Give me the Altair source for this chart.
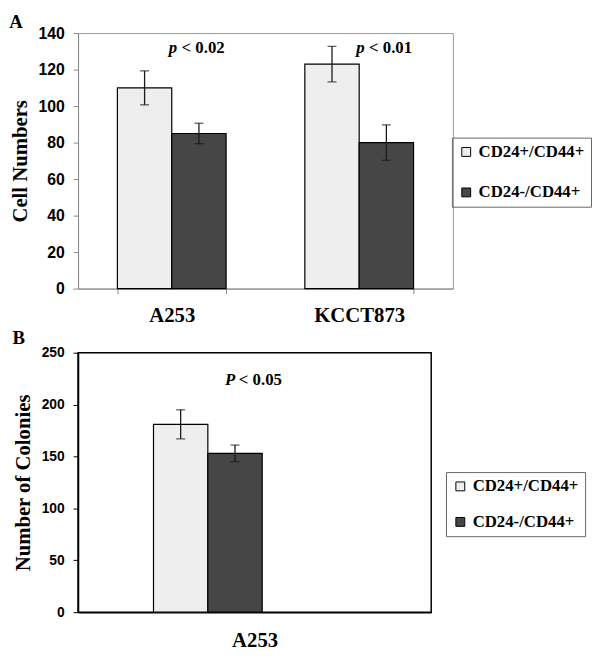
import altair as alt
import pandas as pd

# ---------------- data ----------------
series = ["CD24+/CD44+", "CD24-/CD44+"]
fills = ["#eeeeee", "#464646"]

# Panel A: cell numbers
lines_A = ["A253", "KCCT873"]
cells_plus = [110, 123]
cells_plus_err = [9.3, 9.7]
cells_minus = [85, 80]
cells_minus_err = [5.6, 9.7]
p_prefix_A = ["p", "p"]
p_text_A = ["< 0.02", "< 0.01"]
p_y_A = [132, 132]

# Panel B: colonies
lines_B = ["A253"]
col_plus = [181]
col_plus_err = [14]
col_minus = [153]
col_minus_err = [8]
p_prefix_B = ["P"]
p_text_B = ["< 0.05"]
p_y_B = [224]


def make_df(groups, plus, plus_err, minus, minus_err):
    rows = []
    for g, v, e in zip(groups, plus, plus_err):
        rows.append({"group": g, "series": series[0], "value": v, "lo": v - e, "hi": v + e})
    for g, v, e in zip(groups, minus, minus_err):
        rows.append({"group": g, "series": series[1], "value": v, "lo": v - e, "hi": v + e})
    return pd.DataFrame(rows)


dfA = make_df(lines_A, cells_plus, cells_plus_err, cells_minus, cells_minus_err)
dfB = make_df(lines_B, col_plus, col_plus_err, col_minus, col_minus_err)
annA = pd.DataFrame({"group": lines_A, "pre": p_prefix_A, "txt": p_text_A, "y": p_y_A})
annB = pd.DataFrame({"group": lines_B, "pre": p_prefix_B, "txt": p_text_B, "y": p_y_B})

SERIF = "Liberation Serif"
SANS = "Liberation Sans"


def panel(df, ann, groups, ymax, ystep, ytitle, pad_inner, pad_outer, axis_color,
          tick_font, x_ticks, x_label_pad, legend_x, legend_y, row_pad, pre_dx, txt_dx,
          width, height, frame_color, frame_width, letter, title_offset):
    x = alt.X("group:N", sort=groups, title=None,
              scale=alt.Scale(domain=groups, paddingInner=pad_inner, paddingOuter=pad_outer),
              axis=alt.Axis(labelAngle=0, domainColor=axis_color, domainWidth=frame_width,
                            ticks=x_ticks, tickColor=axis_color, tickSize=5, tickBand="extent",
                            labelFont=SERIF, labelFontSize=21, labelFontWeight="bold",
                            labelColor="black", labelPadding=x_label_pad))
    xo = alt.XOffset("series:N", sort=series,
                     scale=alt.Scale(domain=series, paddingInner=0, paddingOuter=0))
    yscale = alt.Scale(domain=[0, ymax], nice=False)
    yaxis = alt.Axis(values=list(range(0, ymax + 1, ystep)), grid=False,
                     labelOverlap=False,
                     domainColor=axis_color, domainWidth=frame_width,
                     tickColor=axis_color, tickSize=5,
                     labelFont=SANS, labelFontSize=tick_font, labelFontWeight="bold",
                     labelColor="black", labelPadding=9,
                     titleFont=SERIF, titleFontSize=21, titleFontWeight="bold",
                     titleColor="black", titlePadding=8)

    def Y(field):
        return alt.Y(field, title=ytitle, scale=yscale, axis=yaxis)

    color = alt.Color("series:N", sort=series,
                      scale=alt.Scale(domain=series, range=fills),
                      legend=alt.Legend(title=None, orient="none", legendX=legend_x,
                                        legendY=legend_y, direction="vertical",
                                        symbolType="square", symbolSize=81,
                                        symbolStrokeColor="black", symbolStrokeWidth=1,
                                        labelFont=SERIF, labelFontSize=17,
                                        labelFontWeight="bold", labelColor="black",
                                        labelOffset=4, rowPadding=row_pad, padding=6,
                                        strokeColor="#666", labelLimit=300))

    bars = alt.Chart(df).mark_bar(stroke="black", strokeWidth=1.2).encode(
        x=x, xOffset=xo, y=Y("value:Q"), color=color)
    rule = alt.Chart(df).mark_rule(color="#1a1a1a", strokeWidth=1.3).encode(
        x=x, xOffset=xo, y=Y("lo:Q"), y2="hi:Q")
    cap_hi = alt.Chart(df).mark_tick(color="#1a1a1a", thickness=1.3, size=9).encode(
        x=x, xOffset=xo, y=Y("hi:Q"))
    cap_lo = alt.Chart(df).mark_tick(color="#1a1a1a", thickness=1.3, size=9).encode(
        x=x, xOffset=xo, y=Y("lo:Q"))
    pre = alt.Chart(ann).mark_text(font=SERIF, fontSize=17, fontWeight="bold",
                                   fontStyle="italic", align="left", baseline="middle",
                                   dx=pre_dx, color="black").encode(
        x=x, y=Y("y:Q"), text="pre:N")
    txt = alt.Chart(ann).mark_text(font=SERIF, fontSize=17, fontWeight="bold",
                                   align="left", baseline="middle",
                                   dx=txt_dx, color="black").encode(
        x=x, y=Y("y:Q"), text="txt:N")

    return alt.layer(bars, rule, cap_hi, cap_lo, pre, txt).properties(
        width=width, height=height,
        view=alt.ViewBackground(stroke=frame_color, strokeWidth=frame_width),
        title=alt.TitleParams(text=letter, anchor="start", frame="bounds",
                              font=SERIF, fontSize=19, fontWeight="bold",
                              color="black", offset=title_offset))


panelA = panel(dfA, annA, lines_A, 140, 20, "Cell Numbers", 0.42, 0.21, "#888888",
               16, True, 11, 379, 106, 23, -3, 10, 380, 259, "#999999", 1, "A", -7)
panelB = panel(dfB, annB, lines_B, 250, 50, "Number of Colonies", 0, 0.373, "black",
               14, False, 18, 373, 121, 18, -30, -16, 358, 263, "black", 1.5, "B", -2)

chart = alt.vconcat(panelA, panelB, spacing=2).resolve_scale(
    color="independent", x="independent", y="independent"
).resolve_legend(color="independent").properties(padding=0)

chart.save("out.html", embed_options={"renderer": "svg", "actions": False})
